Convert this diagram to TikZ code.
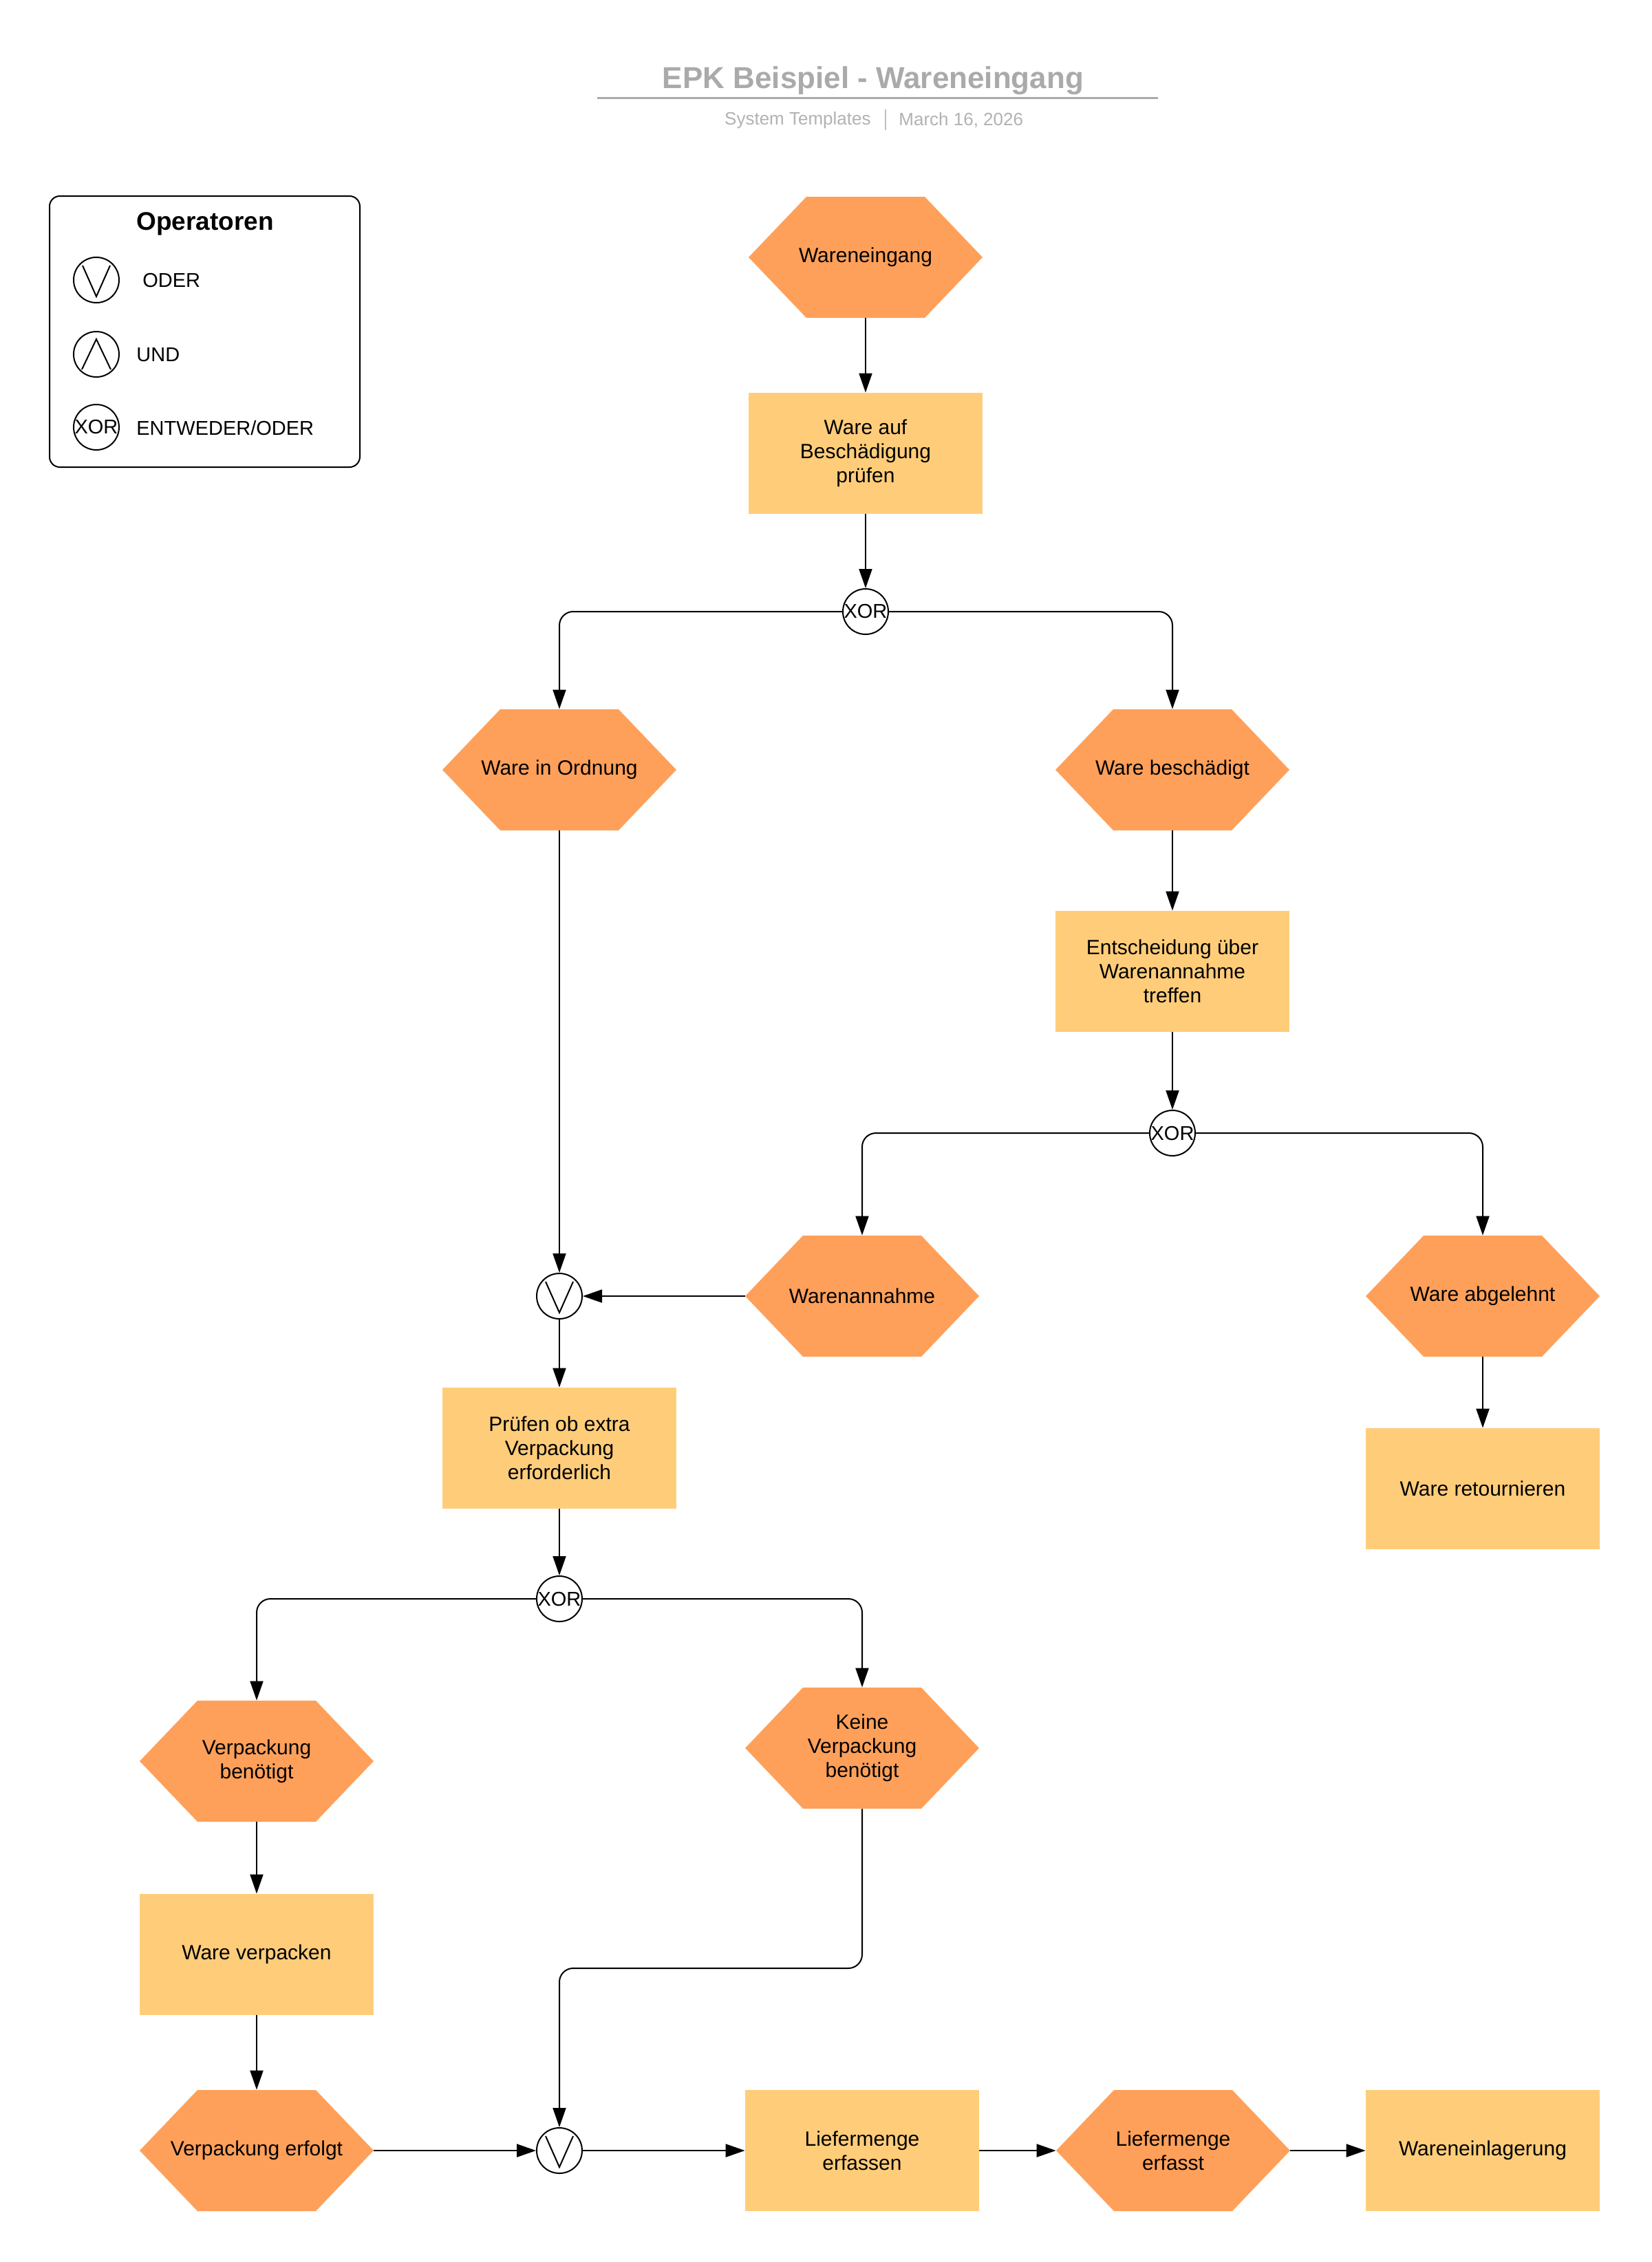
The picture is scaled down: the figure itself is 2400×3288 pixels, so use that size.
\documentclass[tikz,border=0pt]{standalone}
\usepackage{fontspec}
\setmainfont{Liberation Sans}
\usetikzlibrary{arrows.meta}
\definecolor{hexcol}{RGB}{255,160,90}
\definecolor{rectcol}{RGB}{255,205,122}
\definecolor{titlegray}{RGB}{170,170,170}
\definecolor{subgray}{RGB}{178,178,178}
\begin{document}
\begin{tikzpicture}[x=0.5pt,y=-0.5pt,
  every node/.style={font=\fontsize{15}{17.5}\selectfont, align=center, inner sep=0pt},
  hexa/.style={minimum width=170pt, minimum height=88pt,
    path picture={\fill[hexcol] (path picture bounding box.west)
      -- ([xshift=42pt]path picture bounding box.north west)
      -- ([xshift=-42pt]path picture bounding box.north east)
      -- (path picture bounding box.east)
      -- ([xshift=-42pt]path picture bounding box.south east)
      -- ([xshift=42pt]path picture bounding box.south west) -- cycle;}},
  func/.style={fill=rectcol, minimum width=170pt, minimum height=88pt},
  opnode/.style={circle, draw, line width=1pt, fill=white, minimum size=33pt},
  ornode/.style={opnode, path picture={\draw[line width=1pt]
      ([shift={(-10pt,10.5pt)}]path picture bounding box.center)
      -- ([shift={(0pt,-12pt)}]path picture bounding box.center)
      -- ([shift={(10pt,10.5pt)}]path picture bounding box.center);}},
  andnode/.style={opnode, path picture={\draw[line width=1pt]
      ([shift={(-10.5pt,-11pt)}]path picture bounding box.center)
      -- ([shift={(0pt,11pt)}]path picture bounding box.center)
      -- ([shift={(10.5pt,-11pt)}]path picture bounding box.center);}},
  xornode/.style={opnode, font=\fontsize{14.5}{14.5}\selectfont},
  conn/.style={line width=1pt, rounded corners=10pt, -{Triangle[length=14pt,width=9.5pt]}},
  legtext/.style={anchor=west, font=\fontsize{14.5}{17}\selectfont}
]
\useasboundingbox (0,0) rectangle (2400,3288);
\fill[white] (0,0) rectangle (2400,3288);

% title
\node[font=\bfseries\fontsize{22}{26}\selectfont, text=titlegray] (title) at (1269,117) {EPK Beispiel - Wareneingang};
\coordinate (tl) at (868,142);
\coordinate (tr) at (1683,142);
\draw[titlegray, line width=1.5pt] (tl) -- (tr);
\node[anchor=east, text=subgray, font=\fontsize{13}{15}\selectfont] (sub1) at (1266,175) {System Templates};
\node[anchor=west, text=subgray, font=\fontsize{13}{15}\selectfont] (sub2) at (1306,175) {March 16, 2026};
\coordinate (bart) at (1287,159);
\coordinate (barb) at (1287,189);
\draw[subgray!80, line width=0.8pt] (bart) -- (barb);

% legend
\node[draw, line width=1pt, rounded corners=7.5pt, minimum width=225.5pt, minimum height=197pt] (legend) at (297.5,482) {};
\node[font=\bfseries\fontsize{18.5}{22}\selectfont] (legtitle) at (298,325) {Operatoren};
\node[ornode] (lor) at (140,407) {};
\node[legtext] (lort) at (207,408) {ODER};
\node[andnode] (land) at (140,515) {};
\node[legtext] (landt) at (198,516) {UND};
\node[xornode] (lxor) at (140,621) {\makebox[0pt]{XOR}};
\node[legtext] (lxort) at (198,622) {ENTWEDER/ODER};

% nodes
\node[hexa] (e1) at (1258,374) {Wareneingang};
\node[func] (f1) at (1258,659) {Ware auf\\Beschädigung\\prüfen};
\node[xornode] (x1) at (1258,889) {\makebox[0pt]{XOR}};
\node[hexa] (e2) at (813,1119) {Ware in Ordnung};
\node[hexa] (e3) at (1704,1119) {Ware beschädigt};
\node[func] (f2) at (1704,1412) {Entscheidung über\\Warenannahme\\treffen};
\node[xornode] (x2) at (1704,1647) {\makebox[0pt]{XOR}};
\node[hexa] (e4) at (1253,1884) {Warenannahme};
\node[hexa] (e5) at (2155,1884) {Ware abgelehnt};
\node[ornode] (o1) at (813,1884) {};
\node[func] (f3) at (2155,2164) {Ware retournieren};
\node[func] (f4) at (813,2105) {Prüfen ob extra\\Verpackung\\erforderlich};
\node[xornode] (x3) at (813,2324) {\makebox[0pt]{XOR}};
\node[hexa] (e6) at (373,2560) {Verpackung\\benötigt};
\node[hexa] (e7) at (1253,2541) {Keine\\Verpackung\\benötigt};
\node[func] (f5) at (373,2841) {Ware verpacken};
\node[hexa] (e8) at (373,3126) {Verpackung erfolgt};
\node[ornode] (o2) at (813,3126) {};
\node[func] (f6) at (1253,3126) {Liefermenge\\erfassen};
\node[hexa] (e9) at (1705,3126) {Liefermenge\\erfasst};
\node[func] (f7) at (2155,3126) {Wareneinlagerung};
\coordinate (kbend) at (1033,2861);

% connectors
\draw[conn] (e1.south) -- (f1.north);
\draw[conn] (f1.south) -- (x1.north);
\draw[conn] (x1.west) -| (e2.north);
\draw[conn] (x1.east) -| (e3.north);
\draw[conn] (e3.south) -- (f2.north);
\draw[conn] (f2.south) -- (x2.north);
\draw[conn] (x2.west) -| (e4.north);
\draw[conn] (x2.east) -| (e5.north);
\draw[conn] (e2.south) -- (o1.north);
\draw[conn] (e4.west) -- (o1.east);
\draw[conn] (e5.south) -- (f3.north);
\draw[conn] (o1.south) -- (f4.north);
\draw[conn] (f4.south) -- (x3.north);
\draw[conn] (x3.west) -| (e6.north);
\draw[conn] (x3.east) -| (e7.north);
\draw[conn] (e6.south) -- (f5.north);
\draw[conn] (f5.south) -- (e8.north);
\draw[conn] (e7.south) |- (kbend) -| (o2.north);
\draw[conn] (e8.east) -- (o2.west);
\draw[conn] (o2.east) -- (f6.west);
\draw[conn] (f6.east) -- (e9.west);
\draw[conn] (e9.east) -- (f7.west);
\end{tikzpicture}
\end{document}
